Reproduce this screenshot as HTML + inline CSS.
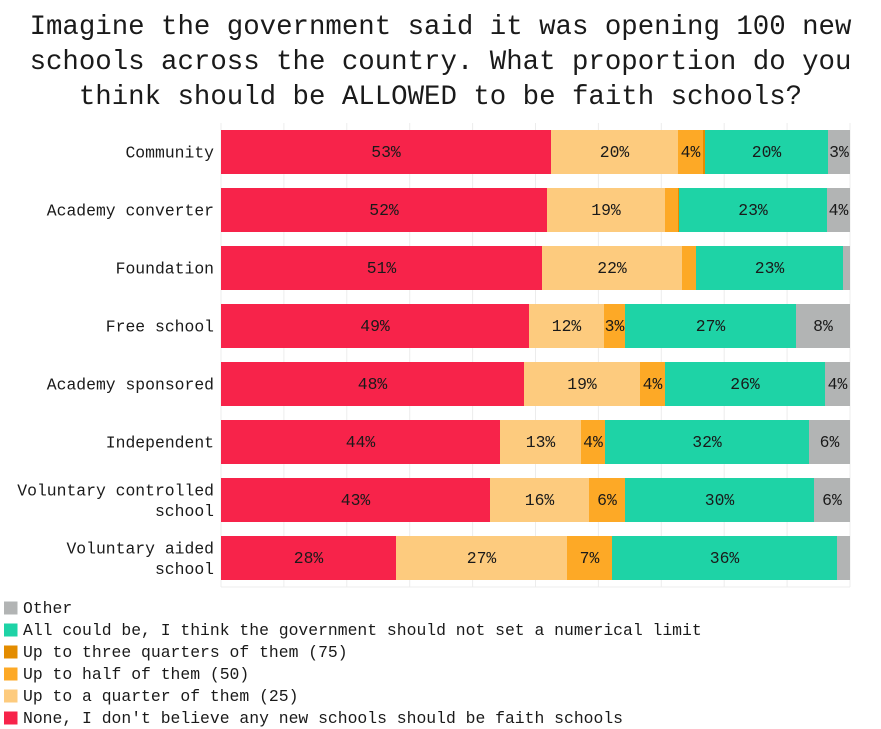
<!DOCTYPE html>
<html><head><meta charset="utf-8"><style>
html,body{margin:0;padding:0;background:#fff;}
svg{display:block;}
text{font-family:"Liberation Mono","DejaVu Sans Mono",monospace;fill:#1a1a1a;}
</style></head><body>
<svg width="881" height="729" viewBox="0 0 881 729" xmlns="http://www.w3.org/2000/svg">
<g font-size="27.4" text-anchor="middle">
<text x="440.5" y="34">Imagine the government said it was opening 100 new</text>
<text x="440.5" y="69">schools across the country. What proportion do you</text>
<text x="440.5" y="104">think should be ALLOWED to be faith schools?</text>
</g>
<g stroke="#ececec" stroke-width="1">
<line x1="221" y1="123" x2="221" y2="587"/>
<line x1="283.9" y1="123" x2="283.9" y2="587"/>
<line x1="346.8" y1="123" x2="346.8" y2="587"/>
<line x1="409.7" y1="123" x2="409.7" y2="587"/>
<line x1="472.6" y1="123" x2="472.6" y2="587"/>
<line x1="535.5" y1="123" x2="535.5" y2="587"/>
<line x1="598.4" y1="123" x2="598.4" y2="587"/>
<line x1="661.3" y1="123" x2="661.3" y2="587"/>
<line x1="724.2" y1="123" x2="724.2" y2="587"/>
<line x1="787.1" y1="123" x2="787.1" y2="587"/>
<line x1="850" y1="123" x2="850" y2="587"/>
<line x1="221" y1="587" x2="850" y2="587"/>
</g>
<g>
<!-- Row 1 -->
<rect x="221" y="130" width="330" height="44" fill="#F7234A"/>
<rect x="551" y="130" width="127" height="44" fill="#FDCB7E"/>
<rect x="678" y="130" width="25" height="44" fill="#FDA926"/>
<rect x="703" y="130" width="2" height="44" fill="#E38C00"/>
<rect x="705" y="130" width="123" height="44" fill="#1ED3A6"/>
<rect x="828" y="130" width="22" height="44" fill="#B2B4B4"/>
<!-- Row 2 -->
<rect x="221" y="188" width="326" height="44" fill="#F7234A"/>
<rect x="547" y="188" width="118" height="44" fill="#FDCB7E"/>
<rect x="665" y="188" width="13" height="44" fill="#FDA926"/>
<rect x="678" y="188" width="1" height="44" fill="#E38C00"/>
<rect x="679" y="188" width="148" height="44" fill="#1ED3A6"/>
<rect x="827" y="188" width="23" height="44" fill="#B2B4B4"/>
<!-- Row 3 -->
<rect x="221" y="246" width="321" height="44" fill="#F7234A"/>
<rect x="542" y="246" width="140" height="44" fill="#FDCB7E"/>
<rect x="682" y="246" width="14" height="44" fill="#FDA926"/>
<rect x="696" y="246" width="147" height="44" fill="#1ED3A6"/>
<rect x="843" y="246" width="7" height="44" fill="#B2B4B4"/>
<!-- Row 4 -->
<rect x="221" y="304" width="308" height="44" fill="#F7234A"/>
<rect x="529" y="304" width="75" height="44" fill="#FDCB7E"/>
<rect x="604" y="304" width="21" height="44" fill="#FDA926"/>
<rect x="625" y="304" width="171" height="44" fill="#1ED3A6"/>
<rect x="796" y="304" width="54" height="44" fill="#B2B4B4"/>
<!-- Row 5 -->
<rect x="221" y="362" width="303" height="44" fill="#F7234A"/>
<rect x="524" y="362" width="116" height="44" fill="#FDCB7E"/>
<rect x="640" y="362" width="25" height="44" fill="#FDA926"/>
<rect x="665" y="362" width="160" height="44" fill="#1ED3A6"/>
<rect x="825" y="362" width="25" height="44" fill="#B2B4B4"/>
<!-- Row 6 -->
<rect x="221" y="420" width="279" height="44" fill="#F7234A"/>
<rect x="500" y="420" width="81" height="44" fill="#FDCB7E"/>
<rect x="581" y="420" width="24" height="44" fill="#FDA926"/>
<rect x="605" y="420" width="204" height="44" fill="#1ED3A6"/>
<rect x="809" y="420" width="41" height="44" fill="#B2B4B4"/>
<!-- Row 7 -->
<rect x="221" y="478" width="269" height="44" fill="#F7234A"/>
<rect x="490" y="478" width="99" height="44" fill="#FDCB7E"/>
<rect x="589" y="478" width="36" height="44" fill="#FDA926"/>
<rect x="625" y="478" width="189" height="44" fill="#1ED3A6"/>
<rect x="814" y="478" width="36" height="44" fill="#B2B4B4"/>
<!-- Row 8 -->
<rect x="221" y="536" width="175" height="44" fill="#F7234A"/>
<rect x="396" y="536" width="171" height="44" fill="#FDCB7E"/>
<rect x="567" y="536" width="45" height="44" fill="#FDA926"/>
<rect x="612" y="536" width="225" height="44" fill="#1ED3A6"/>
<rect x="837" y="536" width="13" height="44" fill="#B2B4B4"/>
</g>
<g font-size="16.4" text-anchor="middle">
<text x="386" y="157">53%</text><text x="614.5" y="157">20%</text><text x="690.5" y="157">4%</text><text x="766.5" y="157">20%</text><text x="839" y="157">3%</text>
<text x="384" y="215">52%</text><text x="606" y="215">19%</text><text x="753" y="215">23%</text><text x="838.5" y="215">4%</text>
<text x="381.5" y="273">51%</text><text x="612" y="273">22%</text><text x="769.5" y="273">23%</text>
<text x="375" y="331">49%</text><text x="566.5" y="331">12%</text><text x="614.5" y="331">3%</text><text x="710.5" y="331">27%</text><text x="823" y="331">8%</text>
<text x="372.5" y="389">48%</text><text x="582" y="389">19%</text><text x="652.5" y="389">4%</text><text x="745" y="389">26%</text><text x="837.5" y="389">4%</text>
<text x="360.5" y="447">44%</text><text x="540.5" y="447">13%</text><text x="593" y="447">4%</text><text x="707" y="447">32%</text><text x="829.5" y="447">6%</text>
<text x="355.5" y="505">43%</text><text x="539.5" y="505">16%</text><text x="607" y="505">6%</text><text x="719.5" y="505">30%</text><text x="832" y="505">6%</text>
<text x="308.5" y="563">28%</text><text x="481.5" y="563">27%</text><text x="589.5" y="563">7%</text><text x="724.5" y="563">36%</text>
</g>
<g font-size="16.4" text-anchor="end">
<text x="214" y="157.5">Community</text>
<text x="214" y="215.5">Academy converter</text>
<text x="214" y="273.5">Foundation</text>
<text x="214" y="331.5">Free school</text>
<text x="214" y="389.5">Academy sponsored</text>
<text x="214" y="447.5">Independent</text>
<text x="214" y="495.5">Voluntary controlled</text>
<text x="214" y="516">school</text>
<text x="214" y="553.5">Voluntary aided</text>
<text x="214" y="574">school</text>
</g>
<g>
<rect x="4" y="601.5" width="13.5" height="13" fill="#B2B4B4"/>
<rect x="4" y="623.5" width="13.5" height="13" fill="#1ED3A6"/>
<rect x="4" y="645.5" width="13.5" height="13" fill="#E38C00"/>
<rect x="4" y="667.5" width="13.5" height="13" fill="#FDA926"/>
<rect x="4" y="689.5" width="13.5" height="13" fill="#FDCB7E"/>
<rect x="4" y="711.5" width="13.5" height="13" fill="#F7234A"/>
</g>
<g font-size="16.4">
<text x="23" y="613">Other</text>
<text x="23" y="635">All could be, I think the government should not set a numerical limit</text>
<text x="23" y="657">Up to three quarters of them (75)</text>
<text x="23" y="679">Up to half of them (50)</text>
<text x="23" y="701">Up to a quarter of them (25)</text>
<text x="23" y="723">None, I don't believe any new schools should be faith schools</text>
</g>
</svg>
</body></html>
